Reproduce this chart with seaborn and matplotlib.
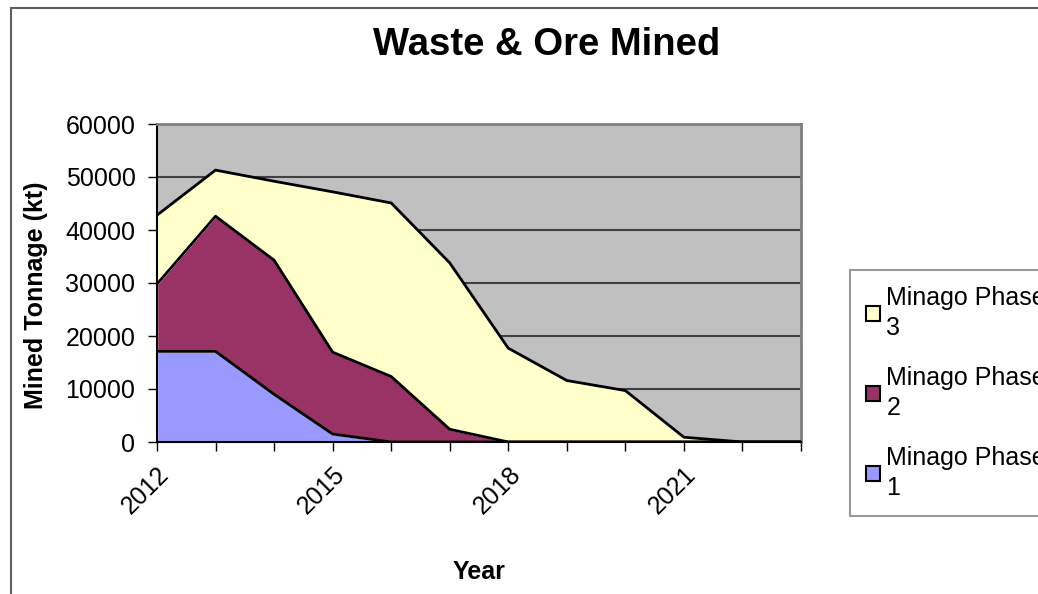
import numpy as np
import pandas as pd
import matplotlib.pyplot as plt
import matplotlib.patches as mpatches
import seaborn as sns

# Donnees (kt)
annees = [2012, 2013, 2014, 2015, 2016, 2017, 2018, 2019, 2020, 2021, 2022, 2023]
phase_1 = [17100, 17100, 9000, 1500, 0, 0, 0, 0, 0, 0, 0, 0]
phase_2 = [12700, 25500, 25300, 15450, 12350, 2400, 0, 0, 0, 0, 0, 0]
phase_3 = [13000, 8700, 14900, 30250, 32750, 31400, 17700, 11600, 9700, 900, 0, 0]
series = ["Minago Phase 1", "Minago Phase 2", "Minago Phase 3"]
couleurs = ["#9999FF", "#993366", "#FFFFCC"]
y_ticks = [0, 10000, 20000, 30000, 40000, 50000, 60000]
x_ticks = [2012, 2015, 2018, 2021]

sns.set_theme(style="white")
plt.rcParams['font.family'] = ['Liberation Sans', 'DejaVu Sans']
plt.rcParams['text.color'] = 'black'
plt.rcParams['axes.labelcolor'] = 'black'
plt.rcParams['xtick.color'] = 'black'
plt.rcParams['ytick.color'] = 'black'

df = pd.DataFrame({"Year": annees, series[0]: phase_1, series[1]: phase_2, series[2]: phase_3})
cumul = df[series].cumsum(axis=1)

fig = plt.figure(figsize=(10.38, 5.94), dpi=100)
ax = fig.add_axes([157 / 1038, 1 - 442 / 594, 644 / 1038, 318 / 594])
ax.set_facecolor('#C0C0C0')

ax.stackplot(df["Year"], df[series[0]], df[series[1]], df[series[2]], colors=couleurs, zorder=2)

# contours noirs des surfaces empilees
for s in series:
    sns.lineplot(x=df["Year"], y=cumul[s], ax=ax, color="black", lw=2, zorder=3)

ax.set_xlim(2012, 2023)
ax.set_ylim(0, 60000)
ax.set_yticks(y_ticks)
ax.set_yticklabels([str(v) for v in y_ticks], fontsize=18)
ax.set_xticks(annees, minor=True)
ax.set_xticks(x_ticks)
ax.set_xticklabels([str(v) for v in x_ticks], fontsize=18, rotation=45, ha='right', rotation_mode='anchor')
ax.tick_params(axis='both', which='both', direction='out', length=6.5, width=1, color='black', left=True, bottom=True)
ax.tick_params(axis='x', which='major', pad=8)
ax.tick_params(axis='y', which='major', pad=9)

ax.yaxis.grid(True, color='#404040', lw=1.5, zorder=1)
ax.set_axisbelow(True)
for side in ['top', 'right']:
    ax.spines[side].set_color('#808080')
    ax.spines[side].set_linewidth(2)
for side in ['left', 'bottom']:
    ax.spines[side].set_color('black')
    ax.spines[side].set_linewidth(1.5)

ax.set_xlabel('Year', fontsize=18, fontweight='bold', labelpad=30)
ax.set_ylabel('Mined Tonnage (kt)', fontsize=18, fontweight='bold', va='center')
ax.yaxis.set_label_coords(-0.188, 0.462)
fig.text(547 / 1038, 1 - 45 / 594, 'Waste & Ore Mined', fontsize=27.5, fontweight='bold', ha='center', va='center')

# legende (ordre inverse comme dans Excel)
poignees = [mpatches.Patch(facecolor=c, edgecolor='black', lw=1.5) for c in couleurs[::-1]]
etiquettes = ["Minago Phase\n3", "Minago Phase\n2", "Minago Phase\n1"]
leg = fig.legend(poignees, etiquettes, loc='upper left', bbox_to_anchor=(850 / 1038, 1 - 270 / 594),
                 fontsize=18, frameon=True, fancybox=False, handlelength=0.55, handleheight=0.55,
                 handletextpad=0.25, labelspacing=1.05, borderpad=0.65, borderaxespad=0)
for t in leg.get_texts():
    t.set_linespacing(1.3)
leg.get_frame().set_edgecolor('#808080')
leg.get_frame().set_linewidth(1.5)

# cadre exterieur de la zone graphique
cadre = mpatches.Rectangle((11 / 1038, -0.1), 1.2, 1.1 - 8 / 594, transform=fig.transFigure,
                           fill=False, edgecolor='#606060', lw=1.5)
fig.patches.append(cadre)

plt.savefig('out.png', dpi=100)
